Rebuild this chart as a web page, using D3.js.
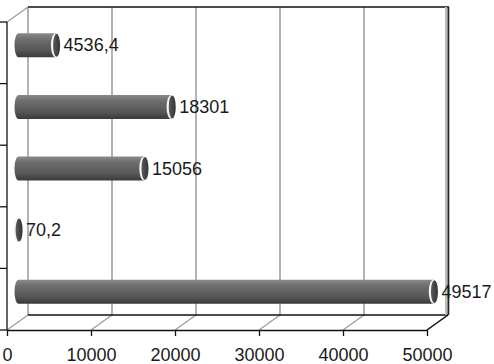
<!DOCTYPE html>
<html>
<head>
<meta charset="utf-8">
<script src="https://cdn.jsdelivr.net/npm/d3@7/dist/d3.min.js"></script>
<style>
  body { margin: 0; background: #fff; }
  svg { display: block; }
  text { font-family: "Liberation Sans", Arial, sans-serif; fill: #1a1a1a; }
</style>
</head>
<body>
<svg id="chart" width="494" height="364"></svg>
<script>
(function() {

  // data, top to bottom
  var categories = ["1", "2", "3", "4", "5"];
  var values = [4536.4, 18301, 15056, 70.2, 49517];
  var xTicks = [0, 10000, 20000, 30000, 40000, 50000];

  var svg = d3.select("#chart");

  // front plane of the 3d box, back plane is shifted by depth
  var left = 7, right = 427, top = 22, bottom = 330;
  var dx = 21, dy = -15;

  var x = d3.scaleLinear().domain([0, 50000]).range([left, right]);
  var y = d3.scaleBand().domain(categories).range([top, bottom]);

  var fmt = d3.formatLocale({ decimal: ",", thousands: "", grouping: [3], currency: ["", ""] }).format("~f");

  var defs = svg.append("defs");
  var grad = defs.append("linearGradient")
      .attr("id", "cyl")
      .attr("x1", 0).attr("y1", 0).attr("x2", 0).attr("y2", 1);
  grad.append("stop").attr("offset", "0%").attr("stop-color", "#8a8a8a");
  grad.append("stop").attr("offset", "25%").attr("stop-color", "#6e6e6e");
  grad.append("stop").attr("offset", "70%").attr("stop-color", "#575757");
  grad.append("stop").attr("offset", "100%").attr("stop-color", "#3a3a3a");

  var capGrad = defs.append("linearGradient")
      .attr("id", "cap")
      .attr("x1", 0).attr("y1", 0).attr("x2", 1).attr("y2", 0);
  capGrad.append("stop").attr("offset", "0%").attr("stop-color", "#5a5a5a");
  capGrad.append("stop").attr("offset", "100%").attr("stop-color", "#333");

  // back wall gridlines
  svg.selectAll(".grid")
    .data(xTicks)
    .enter().append("line")
      .attr("x1", function(d) { return x(d) + dx; })
      .attr("x2", function(d) { return x(d) + dx; })
      .attr("y1", top + dy)
      .attr("y2", bottom + dy)
      .attr("stroke", "#9a9a9a")
      .attr("stroke-width", 1.5);

  // floor gridlines
  svg.selectAll(".floor")
    .data(xTicks)
    .enter().append("line")
      .attr("x1", function(d) { return x(d); })
      .attr("x2", function(d) { return x(d) + dx; })
      .attr("y1", bottom)
      .attr("y2", bottom + dy)
      .attr("stroke", "#9a9a9a")
      .attr("stroke-width", 1.2);

  // box edges
  svg.append("line")
    .attr("x1", left).attr("y1", top).attr("x2", left + dx).attr("y2", top + dy)
    .attr("stroke", "#9a9a9a").attr("stroke-width", 1.2);
  svg.append("line")
    .attr("x1", left + dx).attr("y1", top + dy).attr("x2", right + dx + 1).attr("y2", top + dy)
    .attr("stroke", "#111").attr("stroke-width", 1.3);
  svg.append("line")
    .attr("x1", left + dx).attr("y1", bottom + dy).attr("x2", right + dx).attr("y2", bottom + dy)
    .attr("stroke", "#111").attr("stroke-width", 1.3);
  svg.append("line")
    .attr("x1", right + dx - 2).attr("y1", top + dy).attr("x2", right + dx - 2).attr("y2", bottom + dy)
    .attr("stroke", "#bbb").attr("stroke-width", 2);
  svg.append("line")
    .attr("x1", right + dx + 0.5).attr("y1", top + dy).attr("x2", right + dx + 0.5).attr("y2", bottom + dy)
    .attr("stroke", "#222").attr("stroke-width", 1.6);
  svg.append("line")
    .attr("x1", right).attr("y1", bottom).attr("x2", right + dx).attr("y2", bottom + dy)
    .attr("stroke", "#111").attr("stroke-width", 1.3);

  // cylinders
  var barH = 24, rx = 3.5;
  var bars = svg.selectAll(".bar")
    .data(values)
    .enter().append("g")
      .attr("class", "bar")
      .attr("transform", function(d, i) {
        return "translate(0," + (y(categories[i]) + y.bandwidth() / 2 + dy / 2) + ")";
      });

  bars.append("path")
    .attr("d", function(d) {
      var x0 = x(0) + dx / 2 - 3, x1 = x(d) + dx / 2, h = barH / 2;
      return "M" + x1 + "," + (-h) +
        "L" + (x0 + 4) + "," + (-h) +
        "A4," + h + " 0 0 0 " + (x0 + 4) + "," + h +
        "L" + x1 + "," + h + "Z";
    })
    .style("fill", "url(#cyl)");

  bars.append("ellipse")
    .attr("cx", function(d) { return x(d) + dx / 2; })
    .attr("cy", 0)
    .attr("rx", rx + 1.2)
    .attr("ry", barH / 2)
    .style("fill", "#f4f4f4");

  bars.append("ellipse")
    .attr("cx", function(d) { return x(d) + dx / 2 + 1; })
    .attr("cy", 0)
    .attr("rx", rx)
    .attr("ry", barH / 2 - 0.5)
    .style("fill", "url(#cap)");

  bars.append("text")
    .attr("x", function(d) { return x(d) + dx / 2 + 8; })
    .attr("y", 6)
    .style("font-size", "18px")
    .text(function(d) { return fmt(d); });

  // left axis with category boundary ticks
  svg.append("line")
    .attr("x1", left).attr("y1", top).attr("x2", left).attr("y2", bottom)
    .attr("stroke", "#111").attr("stroke-width", 1.3);
  var edges = categories.map(function(c) { return y(c); }).concat([bottom]);
  svg.selectAll(".ytick")
    .data(edges)
    .enter().append("line")
      .attr("x1", 0).attr("x2", left)
      .attr("y1", function(d) { return d; })
      .attr("y2", function(d) { return d; })
      .attr("stroke", "#111").attr("stroke-width", 1.3);

  // bottom axis
  var axis = svg.append("g")
    .attr("transform", "translate(0," + bottom + ")")
    .call(d3.axisBottom(x).tickValues(xTicks).tickSize(6).tickPadding(12).tickSizeOuter(0).tickFormat(d3.format("d")));
  axis.select(".domain").attr("stroke", "#111").attr("stroke-width", 1.3);
  axis.selectAll(".tick line").attr("stroke", "#111").attr("stroke-width", 1.3);
  axis.selectAll(".tick text")
    .style("font-family", "Liberation Sans, Arial, sans-serif")
    .style("font-size", "18px")
    .attr("fill", "#1a1a1a");

})();
</script>
</body>
</html>
